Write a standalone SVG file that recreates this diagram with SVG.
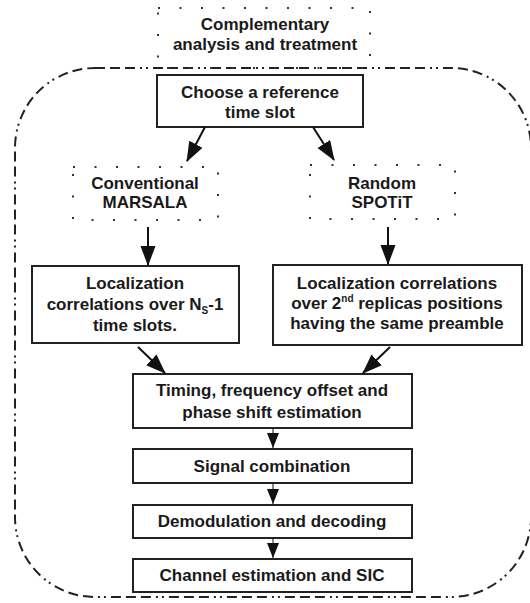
<svg xmlns="http://www.w3.org/2000/svg" width="530" height="603" viewBox="0 0 530 603">
<style>
text{font-family:"Liberation Sans",Arial,sans-serif;font-weight:bold;font-size:17px;fill:#1a1a1a;text-anchor:middle}
.box{fill:#fff;stroke:#222;stroke-width:2}
.dot{fill:none;stroke:#333;stroke-width:2;stroke-dasharray:2 19.5}
.outer{fill:none;stroke:#222;stroke-width:2;stroke-dasharray:10 5 10 5 10 5 2 4 2 5}
.big{stroke:#111;stroke-width:2;fill:none;marker-end:url(#ab)}
.small{stroke:#111;stroke-width:1;fill:none;marker-end:url(#as)}
</style>
<defs>
<marker id="ab" markerUnits="userSpaceOnUse" markerWidth="20" markerHeight="16" refX="19" refY="7.5" orient="auto"><path d="M0,0 L20,7.5 L0,15 z" fill="#111"/></marker>
<marker id="as" markerUnits="userSpaceOnUse" markerWidth="16" markerHeight="14" refX="15" refY="6" orient="auto"><path d="M0,0 L15,6 L0,12 z" fill="#111"/></marker>
</defs>
<g id="outer"><rect class="outer" x="15" y="68" width="516" height="529" rx="80" ry="80"/></g>
<g id="complementary"><rect class="dot" x="158" y="8" width="212" height="60"/><text x="265" y="30">Complementary</text><text x="265" y="50">analysis and treatment</text></g>
<g id="choose"><rect class="box" x="157" y="75" width="206" height="52"/><text x="260" y="98">Choose a reference</text><text x="260" y="118">time slot</text></g>
<g id="conventional"><rect class="dot" x="73" y="167" width="145" height="53"/><text x="145" y="189">Conventional</text><text x="145" y="208">MARSALA</text></g>
<g id="random"><rect class="dot" x="310" y="165" width="145" height="54"/><text x="382" y="189">Random</text><text x="382" y="208">SPOTiT</text></g>
<g id="loc-left"><rect class="box" x="32" y="266" width="207" height="77"/><text x="135" y="289">Localization</text><text x="135" y="310">correlations over N<tspan font-size="10" dy="4">S</tspan><tspan dy="-4">-1</tspan></text><text x="135" y="331">time slots.</text></g>
<g id="loc-right"><rect class="box" x="273" y="265" width="249" height="80"/><text x="397" y="289">Localization correlations</text><text x="397" y="309">over 2<tspan font-size="10" dy="-7">nd</tspan><tspan dy="7"> replicas positions</tspan></text><text x="397" y="329">having the same preamble</text></g>
<g id="timing"><rect class="box" x="133" y="374" width="279" height="54"/><text x="272" y="396">Timing, frequency offset and</text><text x="272" y="418">phase shift estimation</text></g>
<g id="signal"><rect class="box" x="133" y="449" width="279" height="34"/><text x="272" y="472">Signal combination</text></g>
<g id="demod"><rect class="box" x="133" y="505" width="279" height="33"/><text x="272" y="527">Demodulation and decoding</text></g>
<g id="channel"><rect class="box" x="133" y="559" width="279" height="33"/><text x="272" y="581">Channel estimation and SIC</text></g>
<g id="connectors">
<line class="big" x1="205" y1="127" x2="187" y2="161"/>
<line class="big" x1="313" y1="127" x2="334" y2="160"/>
<line class="big" x1="148" y1="227" x2="148" y2="265"/>
<line class="big" x1="388" y1="227" x2="388" y2="264"/>
<line class="big" x1="138" y1="347" x2="165" y2="373"/>
<line class="big" x1="390" y1="347" x2="363" y2="373"/>
<line class="small" x1="273" y1="428" x2="273" y2="448"/>
<line class="small" x1="273" y1="483" x2="273" y2="504"/>
<line class="small" x1="273" y1="538" x2="273" y2="558"/>
</g>
</svg>
